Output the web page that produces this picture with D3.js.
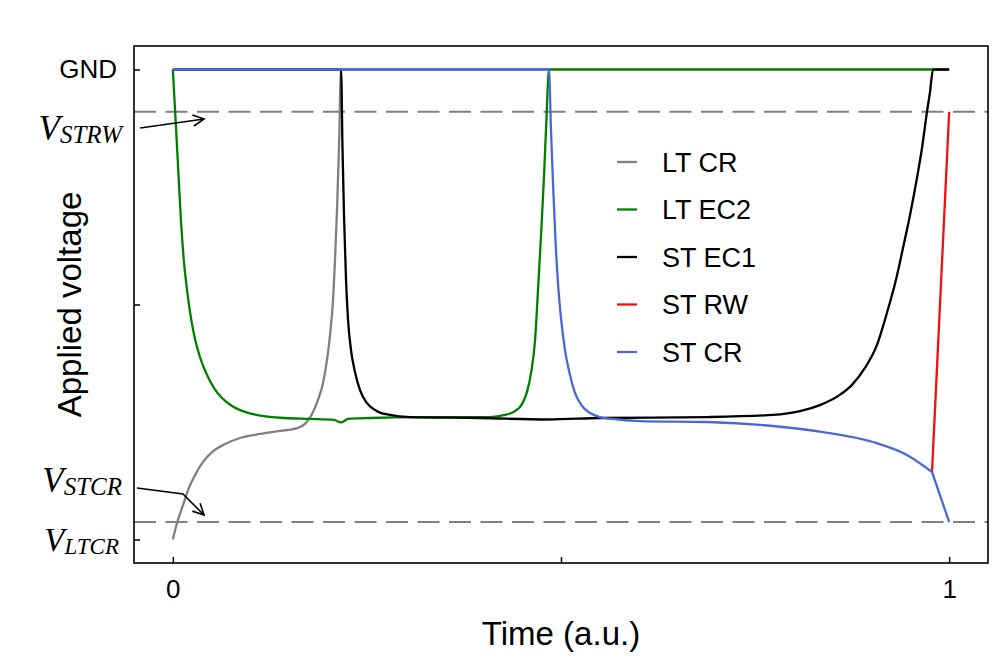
<!DOCTYPE html>
<html>
<head>
<meta charset="utf-8">
<script src="https://cdn.jsdelivr.net/npm/d3@7"></script>
<style>
  body { margin: 0; background: #fff; }
  svg text { font-family: "Liberation Sans", Arial, sans-serif; fill: #000; }
  svg text.math { font-family: "Liberation Serif", "DejaVu Serif", serif; font-style: italic; }
</style>
</head>
<body>
<div id="chart"></div>
<script>

// series (time in a.u., voltage 0 = V_LTCR, 1 = GND)
var seriesNames = ["LT CR", "LT EC2", "ST EC1", "ST RW", "ST CR"];

var ltCrTime = [0, 0.0054, 0.0131, 0.0196, 0.0286, 0.0389, 0.0505, 0.0672, 0.0866, 0.1123, 0.1381, 0.16, 0.1703, 0.1793, 0.187, 0.1935, 0.1986, 0.2025, 0.2064, 0.2089, 0.2115, 0.2141, 0.2167, 0.4845];
var ltCrVolt = [0, 0.035, 0.073, 0.105, 0.137, 0.165, 0.186, 0.203, 0.216, 0.2245, 0.231, 0.237, 0.246, 0.267, 0.297, 0.333, 0.382, 0.435, 0.510, 0.595, 0.701, 0.839, 1.0, 1.0];

var ltEc2Time = [0, 0.0041, 0.008, 0.0106, 0.0144, 0.0183, 0.0234, 0.0286, 0.035, 0.0441, 0.0531, 0.0634, 0.0763, 0.093, 0.1149, 0.1445, 0.1767, 0.2076, 0.2167, 0.2257, 0.254, 0.3184, 0.4086, 0.4279, 0.4408, 0.4498, 0.4562, 0.4614, 0.4666, 0.4704, 0.4743, 0.4782, 0.4813, 0.4845, 1.0];
var ltEc2Volt = [1.0, 0.878, 0.754, 0.6755, 0.590, 0.531, 0.471, 0.4265, 0.388, 0.350, 0.322, 0.301, 0.284, 0.2715, 0.263, 0.2585, 0.2565, 0.2545, 0.249, 0.2565, 0.2585, 0.2605, 0.2605, 0.265, 0.273, 0.288, 0.314, 0.354, 0.4245, 0.531, 0.648, 0.7755, 0.897, 1.0, 1.0];

var stEc1Time = [0, 0.2167, 0.2186, 0.2205, 0.2231, 0.2257, 0.2295, 0.2347, 0.2411, 0.2501, 0.263, 0.2798, 0.3055, 0.3957, 0.4833, 0.5502, 0.688, 0.773, 0.8078, 0.8335, 0.8567, 0.8748, 0.8915, 0.907, 0.9198, 0.9314, 0.9405, 0.9495, 0.9585, 0.965, 0.9714, 0.9753, 0.9792, 1.0];
var stEc1Volt = [1.0, 1.0, 0.829, 0.690, 0.552, 0.467, 0.403, 0.356, 0.318, 0.290, 0.273, 0.265, 0.2605, 0.2585, 0.2553, 0.2585, 0.2605, 0.265, 0.273, 0.286, 0.305, 0.329, 0.365, 0.414, 0.482, 0.552, 0.620, 0.690, 0.769, 0.833, 0.910, 0.952, 1.0, 1.0];

var stRwTime = [0.9779, 1.0];
var stRwVolt = [0.1436, 0.91];

var stCrTime = [0, 0.4845, 0.4871, 0.4897, 0.4929, 0.4961, 0.5, 0.5052, 0.5116, 0.518, 0.5271, 0.5374, 0.5502, 0.5657, 0.6018, 0.688, 0.773, 0.8374, 0.9018, 0.9456, 0.9779, 1.0];
var stCrVolt = [1.0, 1.0, 0.871, 0.7585, 0.637, 0.546, 0.471, 0.403, 0.350, 0.312, 0.284, 0.269, 0.2605, 0.2565, 0.252, 0.250, 0.2415, 0.2287, 0.2074, 0.1798, 0.1436, 0.0372];

// reference levels (dashed lines)
var levelNames = ["STRW", "STCR"];
var levelVolt = [0.91, 0.0372];

// tick values and labels
var timeTicks = [0, 0.5, 1];
var timeTickLabels = ["0", "", "1"];
var voltTicks = [0, 0.5, 1];
var voltTickLabels = ["V_LTCR", "", "GND"];

// annotation arrows (data coords): label, then arrow path points
var annotLabels = ["V_STRW", "V_STCR"];
var annotLabelTime = [-0.0654, -0.0654];
var annotLabelVolt = [0.850, 0.101];
var annotPathTime = [[-0.0422, 0.0402], [-0.0461, 0.0131, 0.0402]];
var annotPathVolt = [[0.8755, 0.8947], [0.1096, 0.0968, 0.0521]];

var svgWidth = 1002, svgHeight = 669;
var plot = { left: 134, right: 988, top: 46, bottom: 563 };
var colors = ["#808080", "#008000", "#000000", "#ee1111", "#4a69d6"];

var svg = d3.select("#chart")
  .append("svg")
  .attr("width", svgWidth)
  .attr("height", svgHeight);

var x = d3.scaleLinear().domain([-0.05, 1.05]).range([plot.left, plot.right]);
var y = d3.scaleLinear().domain([-0.05, 1.05]).range([plot.bottom, plot.top]);

// dashed threshold lines
levelVolt.forEach(function(v) {
  svg.append("line")
    .attr("x1", plot.left)
    .attr("x2", plot.right)
    .attr("y1", y(v))
    .attr("y2", y(v))
    .attr("stroke", "#808080")
    .attr("stroke-width", 2)
    .attr("stroke-dasharray", "22,9.5");
});

function pairs(ts, vs) {
  return ts.map(function(t, i) { return [t, vs[i]]; });
}

var smooth = d3.line()
  .x(function(d) { return x(d[0]); })
  .y(function(d) { return y(d[1]); })
  .curve(d3.curveMonotoneX);

var straight = d3.line()
  .x(function(d) { return x(d[0]); })
  .y(function(d) { return y(d[1]); });

function drawCurve(data, color, gen) {
  svg.append("path")
    .attr("d", gen(data))
    .attr("fill", "none")
    .attr("stroke", color)
    .attr("stroke-width", 2.3)
    .attr("stroke-linejoin", "round");
}

drawCurve(pairs(ltCrTime, ltCrVolt), colors[0], smooth);
drawCurve(pairs(ltEc2Time, ltEc2Volt), colors[1], smooth);
drawCurve(pairs(stEc1Time, stEc1Volt), colors[2], smooth);
drawCurve(pairs(stRwTime, stRwVolt), colors[3], straight);
// ST CR: smooth decay then a straight drop after the kink
var stCr = pairs(stCrTime, stCrVolt);
drawCurve(stCr.slice(0, stCr.length - 1), colors[4], smooth);
drawCurve(stCr.slice(stCr.length - 2), colors[4], straight);

// axes, ticks pointing inwards
var xAxis = svg.append("g")
  .attr("transform", "translate(0," + plot.bottom + ")")
  .call(d3.axisBottom(x).tickValues(timeTicks)
    .tickFormat(function(d, i) { return timeTickLabels[i]; })
    .tickSize(-6).tickPadding(17));

var yAxis = svg.append("g")
  .attr("transform", "translate(" + plot.left + ",0)")
  .call(d3.axisLeft(y).tickValues(voltTicks)
    .tickFormat(function(d, i) { return voltTickLabels[i]; })
    .tickSize(-6).tickPadding(17));

[xAxis, yAxis].forEach(function(g) {
  g.select(".domain").remove();
  g.selectAll(".tick line").attr("stroke", "#000").attr("stroke-width", 1.5);
  g.selectAll(".tick text")
    .attr("font-size", 26)
    .attr("font-family", "Liberation Sans, Arial, sans-serif");
});

function mathLabel(sel, label, big, small) {
  var parts = label.split("_");
  sel.text(null).attr("class", "math").attr("font-size", big);
  sel.append("tspan").text(parts[0]);
  sel.append("tspan").attr("font-size", small).attr("dy", 3).text(parts[1]);
}

yAxis.selectAll(".tick text").each(function(d, i) {
  var lbl = voltTickLabels[i];
  if (lbl.indexOf("_") > 0) {
    var t = d3.select(this);
    t.attr("dy", null).attr("y", 11).attr("x", -15);
    mathLabel(t, lbl, 33, 23);
  }
});

// annotations
annotLabels.forEach(function(lbl, i) {
  var t = svg.append("text")
    .attr("x", x(annotLabelTime[i]))
    .attr("y", y(annotLabelVolt[i]))
    .attr("text-anchor", "end");
  mathLabel(t, lbl, 35, 25);

  var pts = pairs(annotPathTime[i], annotPathVolt[i]).map(function(p) { return [x(p[0]), y(p[1])]; });
  svg.append("path")
    .attr("d", d3.line()(pts))
    .attr("fill", "none")
    .attr("stroke", "#000")
    .attr("stroke-width", 1.6);

  var tip = pts[pts.length - 1], prev = pts[pts.length - 2];
  var ang = Math.atan2(tip[1] - prev[1], tip[0] - prev[0]);
  var hl = 11, hw = 5.5;
  var bx = tip[0] - hl * Math.cos(ang), by = tip[1] - hl * Math.sin(ang);
  var nx = -Math.sin(ang) * hw, ny = Math.cos(ang) * hw;
  svg.append("path")
    .attr("d", "M" + (bx + nx) + "," + (by + ny) + "L" + tip[0] + "," + tip[1] + "L" + (bx - nx) + "," + (by - ny))
    .attr("fill", "none")
    .attr("stroke", "#000")
    .attr("stroke-width", 1.6);
});

// legend
var legend = svg.append("g");
seriesNames.forEach(function(name, i) {
  var ly = 162 + i * 47.5;
  legend.append("line")
    .attr("x1", 617).attr("x2", 637)
    .attr("y1", ly).attr("y2", ly)
    .attr("stroke", colors[i])
    .attr("stroke-width", 2.3);
  legend.append("text")
    .attr("x", 662)
    .attr("y", ly)
    .attr("dy", "0.36em")
    .attr("font-size", 27)
    .text(name);
});

// frame
svg.append("rect")
  .attr("x", plot.left)
  .attr("y", plot.top)
  .attr("width", plot.right - plot.left)
  .attr("height", plot.bottom - plot.top)
  .attr("fill", "none")
  .attr("stroke", "#000")
  .attr("stroke-width", 1.6);

// axis titles
svg.append("text")
  .attr("x", (plot.left + plot.right) / 2)
  .attr("y", 645)
  .attr("text-anchor", "middle")
  .attr("font-size", 33)
  .text("Time (a.u.)");

svg.append("text")
  .attr("transform", "translate(81," + (plot.top + plot.bottom) / 2 + ") rotate(-90)")
  .attr("text-anchor", "middle")
  .attr("font-size", 33)
  .text("Applied voltage");

</script>
</body>
</html>
